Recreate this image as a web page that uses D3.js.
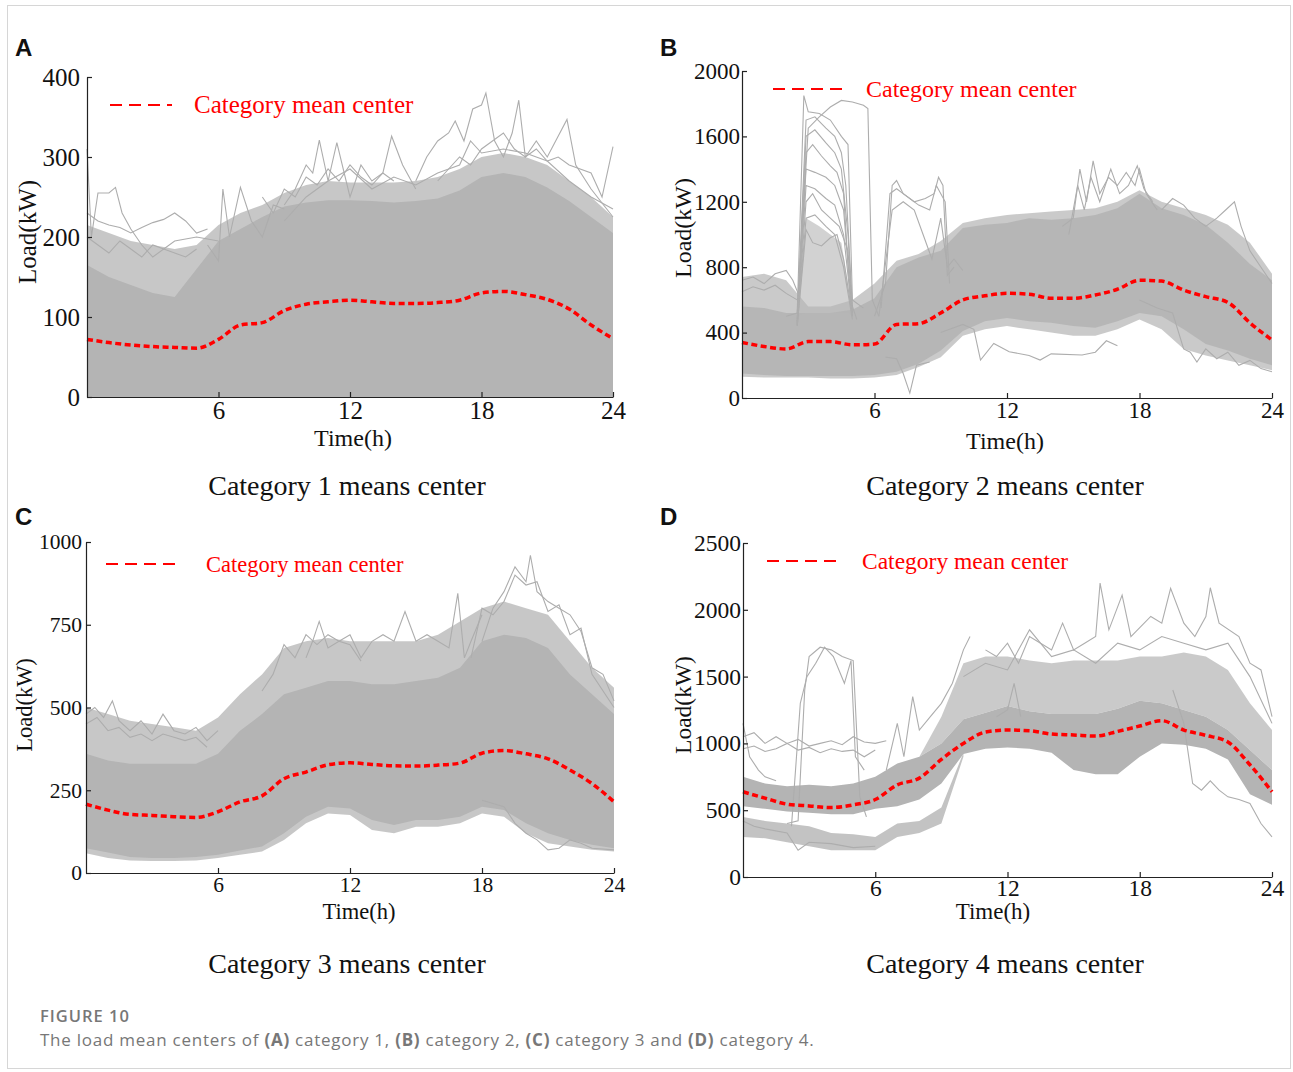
<!DOCTYPE html>
<html><head><meta charset="utf-8">
<script src="https://cdn.jsdelivr.net/npm/d3@7"></script>
<style>body{margin:0;background:#fff} svg{display:block}</style>
</head><body>
<svg id="chart" width="1293" height="1072"></svg>
<script>
// ---------------- DATA ----------------
const hours = [0,1,2,3,4,5,6,7,8,9,10,11,12,13,14,15,16,17,18,19,20,21,22,23,24];
const xTickValues = [6,12,18,24];

// Panel A (category 1)
const ticksA = [0,100,200,300,400];
const meanA = [72,68,65,63,62,61,72,90,93,108,116,119,121,119,117,117,118,121,130,132,128,122,110,90,73];
const denseHiA = [165,150,140,130,125,160,195,210,225,238,243,246,246,245,243,245,248,258,275,280,275,262,245,225,205];
const sparseHiA = [215,205,195,190,185,190,215,230,240,255,265,270,268,268,268,270,275,285,300,305,300,290,270,250,225];
const outA1 = [[0,310],[0.2,200],[0.5,255],[1,255],[1.3,262],[1.6,230],[2,210],[2.5,190],[3,175],[4,195],[5,200],[6,195]];
const outA2 = [[0,230],[0.5,220],[1,215],[1.5,212],[2,205],[2.5,212],[3,218],[3.5,222],[4,230],[4.5,220],[5,205],[5.5,210]];
const outA3 = [[5.5,190],[6,170],[6.2,260],[6.5,200],[7,262],[7.5,220],[8,200],[8.5,240],[9,235]];
const outA4 = [[9,240],[9.5,260],[10,290],[10.3,280],[10.6,321],[11,270],[11.4,318],[12,250],[12.5,290],[13,270],[13.5,280],[13.9,326],[14.4,290],[15,260]];
const outA5 = [[15,270],[15.5,300],[16,320],[16.5,330],[16.8,345],[17.2,320],[17.6,360],[18,365],[18.2,380],[18.6,320],[19,300],[19.4,330],[19.7,371],[20,300],[20.5,310],[21,295],[21.5,300],[22,290],[23,280],[23.5,250],[24,313]];
const outA6 = [[16,270],[17,300],[17.5,290],[18,310],[19,330],[19.5,310],[20,300],[20.5,320],[21,300],[21.9,347],[22.3,290],[23,260],[24,225]];
const outA7 = [[9,220],[10,250],[11,270],[12,285],[13,260],[14,275],[15,265],[16,280],[17,290],[17.5,320],[18,305],[19,310],[20,305],[21,295],[22,270],[23,250],[24,235]];
const outA8 = [[0,200],[0.5,190],[1,180],[1.5,195],[2,185],[2.5,175],[3,190],[3.5,185],[4,180],[4.5,175],[5,185]];
const outA9 = [[8,250],[8.5,230],[9,260],[9.5,250],[10,275],[10.5,265],[11,285],[11.5,270],[12,290],[12.5,275],[13,265],[13.5,280],[14,270]];

// Panel B (category 2)
const ticksB = [0,400,800,1200,1600,2000];
const meanB = [340,315,300,345,345,325,330,450,455,520,600,625,640,635,610,610,630,665,720,715,660,620,585,460,355];
const denseLoB = [150,140,135,135,135,135,140,160,210,290,410,470,490,470,460,440,430,470,520,500,420,330,290,240,200];
const denseHiB = [560,550,520,520,520,540,610,800,860,900,1040,1060,1070,1100,1090,1100,1120,1160,1250,1160,1120,1060,950,820,720];
const sparseLoB = [130,125,125,125,120,120,125,140,190,250,380,420,440,420,400,380,380,420,480,420,300,260,230,200,170];
const sparseHiB = [740,760,720,560,560,600,700,840,880,960,1070,1100,1120,1130,1140,1150,1160,1200,1270,1200,1160,1120,1060,950,760];
const spikeHoursB = [2.5,2.9,3.5,4,4.5,4.8,5.0];
const spikeLoB = [500,520,520,520,520,520,500];
const spikeHiB = [500,1100,1050,1000,950,700,500];
const outB1 = [[2.5,520],[3,1650],[3.5,1720],[4,1780],[4.5,1820],[5,1810],[5.5,1790],[5.7,1770],[5.9,600],[6.2,500]];
const outB2 = [[2,500],[2.5,520],[2.8,1850],[3,1750],[3.5,1740],[4,1700],[4.5,1600],[4.8,1550],[5,600],[5.5,550]];
const outB3 = [[2.5,480],[2.9,1700],[3.3,1720],[3.8,1650],[4.2,1600],[4.5,1500],[4.7,1300],[5,550]];
const outB4 = [[2.5,460],[2.9,1500],[3.2,1550],[3.6,1480],[4,1420],[4.3,1380],[4.6,1250],[4.9,600],[5.2,480]];
const outB5 = [[2.5,450],[2.9,1200],[3.2,1250],[3.6,1150],[4,1100],[4.4,1050],[4.8,900],[5,520]];
const outB6 = [[2.5,440],[2.9,1030],[3.2,950],[3.6,930],[4,980],[4.3,1000],[4.6,850],[5,500]];
const outB7 = [[2.5,450],[2.9,1400],[3.3,1380],[3.8,1350],[4.2,1300],[4.6,1150],[5,500]];
const outB8 = [[2.5,440],[2.9,1100],[3.3,1120],[3.8,1050],[4.2,1000],[4.6,800],[5,480]];
const outB9 = [[6,500],[6.5,700],[6.8,1300],[7,1330],[7.3,1250],[7.8,1200],[8.3,1220],[8.7,1250],[8.9,1350],[9.1,1300],[9.3,750],[9.6,800]];
const outB10 = [[6.3,550],[6.7,1250],[7,1280],[7.5,1230],[8,1180],[8.5,1150],[8.8,1300],[9.2,1200],[9.4,700]];
const outB11 = [[6.2,500],[6.8,1150],[7.3,1200],[7.8,1150],[8.2,1000],[8.6,850],[9,1100],[9.3,800],[9.6,850],[10,780]];
const outB12 = [[6.5,250],[7,240],[7.3,150],[7.6,30],[7.9,200],[8.5,220]];
const outB13 = [[9,400],[10,450],[10.5,420],[10.8,232],[11.4,334],[12.1,283],[13,260],[13.5,232],[14,270],[15.4,263],[16,280],[16.5,350],[17,320]];
const outB14 = [[14.5,1050],[15,1100],[15.3,1400],[15.6,1200],[15.9,1450],[16.2,1250],[16.6,1350],[17,1300],[17.4,1380],[17.8,1300],[18,1400],[18.3,1250],[18.8,1150]];
const outB15 = [[14.8,1000],[15.2,1300],[15.5,1150],[15.8,1350],[16.2,1200],[16.7,1400],[17.1,1250],[17.5,1300],[17.9,1420],[18.2,1280],[18.6,1200]];
const outB16 = [[19,1150],[19.5,1220],[20,1180],[20.5,1100],[21,1050],[21.5,1100],[21.9,1150],[22.3,1200],[22.6,1050],[23,900],[23.5,800],[24,700]];
const outB17 = [[18,600],[18.8,550],[19.5,520],[20,300],[20.3,280],[20.6,220],[21,300],[21.5,240],[22,280],[22.5,200],[23,230],[23.5,180],[24,160]];
const outB18 = [[0,720],[0.5,740],[1,700],[1.5,760],[2,780],[2.3,720],[2.6,620]];
const outB19 = [[0,650],[0.5,680],[1,660],[1.5,690],[2,640],[2.5,600]];
const outB20 = [[2.5,470],[2.9,1600],[3.3,1640],[3.8,1560],[4.2,1500],[4.5,1400],[4.8,1000],[5,520]];
const outB21 = [[2.5,450],[2.9,1300],[3.3,1280],[3.8,1220],[4.2,1180],[4.6,1000],[5,500]];

// Panel C (category 3)
const ticksC = [0,250,500,750,1000];
const meanC = [208,190,177,174,170,168,185,215,233,285,305,327,333,328,324,323,326,332,362,370,360,345,311,270,215];
const denseLoC = [75,62,48,45,45,48,55,68,80,120,170,200,195,160,145,160,160,170,200,190,150,120,100,85,75];
const denseHiC = [360,340,330,330,330,330,360,430,480,540,560,580,580,570,570,580,590,620,700,720,710,680,600,540,480];
const sparseLoC = [60,45,38,36,36,38,45,55,65,100,150,180,175,130,120,140,140,150,180,170,120,90,80,70,65];
const sparseHiC = [500,480,460,450,440,430,470,540,600,680,700,710,700,700,700,700,720,760,800,820,800,780,700,620,560];
const outC1 = [[0,480],[0.4,500],[0.8,470],[1.2,520],[1.5,460],[2,430],[2.5,460],[3,420],[3.5,480],[4,430],[4.5,420],[5,440],[5.5,400],[6,430]];
const outC2 = [[0,450],[0.5,470],[1,430],[1.5,440],[2,410],[2.5,420],[3,400],[3.5,420],[4,410],[4.5,400],[5,410],[5.5,380]];
const outC3 = [[10,650],[10.3,700],[10.6,760],[11,680],[11.5,700],[12,720],[12.5,650],[13,700],[13.5,720],[14,700],[14.5,790],[15,700],[15.5,720],[16,700],[16.5,680],[16.9,845],[17.2,650],[17.5,700],[18,780]];
const outC4 = [[18,700],[18.5,800],[19,850],[19.5,925],[20,880],[20.2,960],[20.5,850],[21,820],[21.5,800],[22,780],[22.5,730],[23,620],[23.5,600],[24,520]];
const outC5 = [[17.5,650],[18,800],[18.5,780],[19,820],[19.5,900],[20,870],[20.5,880],[21,790],[21.5,810],[22,720],[22.5,740],[23,600],[24,500]];
const outC6 = [[18,220],[19,200],[19.5,150],[20,120],[20.5,100],[21,70],[21.5,75],[22,100],[22.5,90],[23,75],[24,70]];
const outC7 = [[8,550],[8.5,600],[9,690],[9.5,650],[10,720],[10.5,690],[11,720],[11.5,700],[12,690],[12.5,640]];

// Panel D (category 4)
const ticksD = [0,500,1000,1500,2000,2500];
const meanD = [638,590,545,532,520,540,580,690,740,880,1000,1085,1100,1095,1070,1063,1055,1090,1130,1170,1100,1060,1010,840,638];
const denseLoD = [530,510,490,480,470,470,510,530,580,700,920,960,970,960,930,800,770,770,900,1000,990,960,880,620,540];
const denseHiD = [750,700,680,690,680,700,750,850,900,1000,1180,1230,1280,1240,1220,1220,1220,1260,1320,1300,1250,1200,1100,950,800];
const upperHoursD = [8,9,10,11,12,13,14,15,16,17,18,19,20,21,22,23,24];
const upperLoD = [900,1000,1180,1230,1280,1240,1220,1220,1220,1260,1320,1300,1250,1200,1100,950,800];
const upperHiD = [900,1200,1600,1650,1650,1620,1600,1620,1620,1620,1650,1650,1680,1650,1550,1300,1100];
const lowHoursD = [0,1,2,3,4,5,6,7,8,9,10];
const lowLoD = [300,290,260,230,200,200,200,300,330,400,900];
const lowHiD = [450,420,400,380,330,320,300,400,420,520,930];
const outD1 = [[2,400],[2.5,420],[2.8,1400],[3,1650],[3.5,1720],[4,1700],[4.5,1650],[5,1620],[5.3,600],[5.6,450]];
const outD2 = [[2.2,380],[2.6,1300],[2.9,1500],[3.3,1600],[3.7,1720],[4.1,1650],[4.6,1450],[4.9,1620],[5.1,900],[5.5,800]];
const outD3 = [[0,1050],[0.5,1080],[1,1000],[1.5,1050],[2,1000],[2.5,1030],[3,980],[3.5,1000],[4,1020],[4.5,990],[5,1050],[5.5,1010],[6,1000],[6.5,1020]];
const outD4 = [[0,960],[0.5,980],[1,940],[1.5,960],[2,1000],[2.5,950],[3,970],[3.5,930],[4,960],[4.5,940],[5,950],[5.5,900],[6,950]];
const outD5 = [[6.5,800],[7,1150],[7.3,900],[7.7,1350],[8,1100],[8.5,1200],[9,1300],[9.5,1450],[10,1700],[10.3,1800]];
const outD6 = [[11,1700],[11.5,1650],[12,1750],[12.5,1600],[13,1800],[13.5,1750],[14,1700],[14.5,1900],[15,1700],[15.5,1750],[16,1800],[16.2,2200],[16.6,1850],[17.2,2110],[17.6,1800],[18.5,1950],[19,1900],[19.4,2160],[20,1900],[20.5,1800],[21,1950],[21.2,2165],[21.6,1900],[22.5,1800],[23,1600],[23.5,1550],[24,1200]];
const outD7 = [[10,1500],[11,1600],[12,1550],[13,1850],[14,1650],[15,1700],[16,1600],[17,1750],[18,1700],[19,1800],[20,1750],[21,1700],[22,1750],[23,1500],[24,1150]];
const outD8 = [[19.5,1400],[20,1150],[20.4,700],[20.8,650],[21.2,720],[21.6,650],[22,600],[22.5,580],[23,550],[23.5,400],[24,300]];
const outD9 = [[11.5,1200],[12,1250],[12.3,1450],[12.6,1200]];
const outD10 = [[0,1150],[0.3,900],[0.7,800],[1,750],[1.5,720]];
const outD11 = [[0,420],[0.5,380],[1,360],[2,330],[2.5,200],[3,260],[4,250],[5,220],[6,230]];

const legendLabel = "Category mean center";
const titles = ["Category 1 means center","Category 2 means center","Category 3 means center","Category 4 means center"];
const panelLetters = ["A","B","C","D"];

// ---------------- DRAWING ----------------
const svg = d3.select("#chart");
const GRAY = "#b4b4b4";
const SERIF = "'Liberation Serif','Times New Roman',serif";

svg.append("rect").attr("x",7.5).attr("y",5.5).attr("width",1283).attr("height",1063)
  .attr("fill","none").attr("stroke","#d6d6d6");

const panels = [
  {letter:panelLetters[0], lx:15, ly:56, x0:87, x1:613, y0:397, y1:77, ymax:400, ticks:ticksA, mean:meanA,
   bands:[{h:hours, hi:sparseHiA, op:0.75},{h:hours, hi:denseHiA, op:1}],
   lines:[outA1,outA2,outA3,outA4,outA5,outA6,outA7,outA8,outA9],
   tickFont:25, yPad:7, legend:{x1:110,x2:172,y:105,tx:194,fs:25}, xlab:{x:353,y:446,fs:24}, ylab:{x:36,y:232,fs:25},
   title:{x:347,y:495,text:titles[0]}},
  {letter:panelLetters[1], lx:660, ly:56, x0:742, x1:1272, y0:398, y1:71, ymax:2000, ticks:ticksB, mean:meanB,
   bands:[{h:hours, lo:sparseLoB, hi:sparseHiB, op:0.7},{h:spikeHoursB, lo:spikeLoB, hi:spikeHiB, op:0.6},{h:hours, lo:denseLoB, hi:denseHiB, op:0.9}],
   lines:[outB1,outB2,outB3,outB4,outB5,outB6,outB7,outB8,outB9,outB10,outB11,outB12,outB13,outB14,outB15,outB16,outB17,outB18,outB19,outB20,outB21],
   tickFont:23, yPad:2, legend:{x1:773,x2:843,y:89,tx:866,fs:24}, xlab:{x:1005,y:449,fs:24}, ylab:{x:691,y:228,fs:24},
   title:{x:1005,y:495,text:titles[1]}},
  {letter:panelLetters[2], lx:15, ly:525, x0:86, x1:614, y0:873, y1:542, ymax:1000, ticks:ticksC, mean:meanC,
   bands:[{h:hours, lo:sparseLoC, hi:sparseHiC, op:0.75},{h:hours, lo:denseLoC, hi:denseHiC, op:1}],
   lines:[outC1,outC2,outC3,outC4,outC5,outC6,outC7],
   tickFont:21.5, yPad:4, legend:{x1:106,x2:176,y:564,tx:206,fs:22.5}, xlab:{x:359,y:919,fs:22.5}, ylab:{x:32,y:705,fs:22.5},
   title:{x:347,y:973,text:titles[2]}},
  {letter:panelLetters[3], lx:660, ly:525, x0:743, x1:1272, y0:877, y1:543, ymax:2500, ticks:ticksD, mean:meanD,
   bands:[{h:upperHoursD, lo:upperLoD, hi:upperHiD, op:0.7},{h:lowHoursD, lo:lowLoD, hi:lowHiD, op:0.8},{h:hours, lo:denseLoD, hi:denseHiD, op:1}],
   lines:[outD1,outD2,outD3,outD4,outD5,outD6,outD7,outD8,outD9,outD10,outD11],
   tickFont:23.5, yPad:2, xPad:2, legend:{x1:767,x2:837,y:561,tx:862,fs:23.5}, xlab:{x:993,y:919,fs:23}, ylab:{x:691,y:705,fs:23.5},
   title:{x:1005,y:973,text:titles[3]}}
];

panels.forEach(p => {
  const g = svg.append("g");
  const x = d3.scaleLinear().domain([0,24]).range([p.x0,p.x1]);
  const y = d3.scaleLinear().domain([0,p.ymax]).range([p.y0,p.y1]);

  p.bands.forEach(b => {
    const area = d3.area()
      .x((d,i) => x(b.h[i]))
      .y0((d,i) => y(b.lo ? b.lo[i] : 0))
      .y1((d,i) => y(b.hi[i]));
    g.append("path").datum(b.h).attr("d", area).attr("fill", GRAY).attr("fill-opacity", b.op);
  });

  const line = d3.line().x(d => x(d[0])).y(d => y(d[1]));
  p.lines.forEach(l => {
    g.append("path").datum(l).attr("d", line).attr("fill","none")
      .attr("stroke","#adadad").attr("stroke-width",1.1);
  });

  const meanLine = d3.line().x((d,i) => x(hours[i])).y(d => y(d)).curve(d3.curveMonotoneX);
  g.append("path").datum(p.mean).attr("d", meanLine).attr("fill","none")
    .attr("stroke","#ff0000").attr("stroke-width",3.5).attr("stroke-dasharray","6,3.5");

  // axes
  const xa = g.append("g").attr("transform",`translate(0,${p.y0})`)
    .call(d3.axisBottom(x).tickValues(xTickValues).tickSizeInner(-5).tickSizeOuter(0).tickPadding(p.xPad ?? 4));
  const ya = g.append("g").attr("transform",`translate(${p.x0},0)`)
    .call(d3.axisLeft(y).tickValues(p.ticks).tickSizeInner(-5).tickSizeOuter(0).tickPadding(p.yPad).tickFormat(d3.format("d")));
  [xa,ya].forEach(a => {
    a.attr("font-family", SERIF).attr("font-size", p.tickFont);
    a.selectAll("path,line").attr("stroke","#222").attr("stroke-width",1.2);
    a.selectAll("text").attr("fill","#111");
  });

  // axis labels
  g.append("text").attr("x",p.xlab.x).attr("y",p.xlab.y).attr("text-anchor","middle")
    .attr("font-family",SERIF).attr("font-size",p.xlab.fs).attr("fill","#111").text("Time(h)");
  g.append("text").attr("transform",`translate(${p.ylab.x},${p.ylab.y}) rotate(-90)`).attr("text-anchor","middle")
    .attr("font-family",SERIF).attr("font-size",p.ylab.fs).attr("fill","#111").text("Load(kW)");

  // legend
  g.append("line").attr("x1",p.legend.x1).attr("x2",p.legend.x2).attr("y1",p.legend.y).attr("y2",p.legend.y)
    .attr("stroke","#ff0000").attr("stroke-width",2).attr("stroke-dasharray","12,7");
  g.append("text").attr("x",p.legend.tx).attr("y",p.legend.y+8).attr("font-family",SERIF)
    .attr("font-size",p.legend.fs).attr("fill","#ff0000").text(legendLabel);

  // title
  g.append("text").attr("x",p.title.x).attr("y",p.title.y).attr("text-anchor","middle")
    .attr("font-family",SERIF).attr("font-size",28).attr("fill","#111").text(p.title.text);

  // panel letter
  g.append("text").attr("x",p.lx).attr("y",p.ly).attr("font-family","'Liberation Sans',Arial,sans-serif")
    .attr("font-weight","bold").attr("font-size",24).attr("fill","#111").text(p.letter);
});

// caption
svg.append("text").attr("x",40).attr("y",1022).attr("font-family","'Open Sans',sans-serif")
  .attr("font-size",16.5).attr("font-weight",600).attr("letter-spacing",1).attr("fill","#777").text("FIGURE 10");
const cap = svg.append("text").attr("x",40).attr("y",1046).attr("font-family","'Open Sans',sans-serif")
  .attr("font-size",17).attr("letter-spacing",0.75).attr("fill","#777");
const capParts = [["The load mean centers of ",false],["(A)",true],[" category 1, ",false],["(B)",true],[" category 2, ",false],["(C)",true],[" category 3 and ",false],["(D)",true],[" category 4.",false]];
capParts.forEach(([t,b]) => cap.append("tspan").attr("font-weight", b ? 700 : 400).text(t));
</script></body></html>
